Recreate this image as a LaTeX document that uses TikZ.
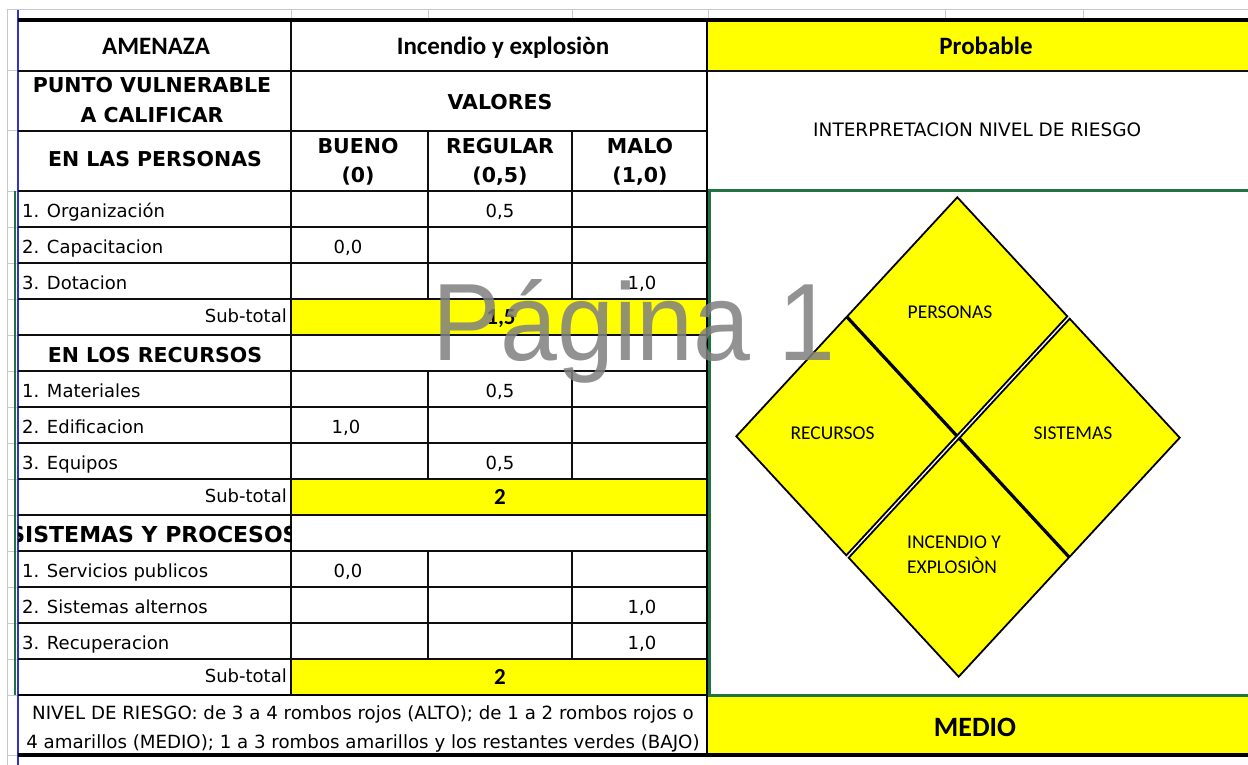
\documentclass[tikz,border=0pt]{standalone}
\usepackage{fontspec}
\setmainfont{DejaVu Sans}
\newfontfamily\calibri{Carlito}
\newfontfamily\arialfont{Liberation Sans}
\usetikzlibrary{shapes.geometric}
\definecolor{amarillo}{RGB}{255,255,0}
\definecolor{verdexl}{RGB}{33,115,70}
\definecolor{rejilla}{RGB}{200,200,200}
\definecolor{azulxl}{RGB}{50,50,210}
\definecolor{marcagris}{RGB}{128,128,128}
\definecolor{tinta}{RGB}{15,15,15}
\tikzset{linea/.style={line width=1.6pt, tinta},
  gruesa/.style={line width=3.5pt, black},
  item/.style={anchor=base west, inner sep=0pt, font=\fontsize{18}{20}\selectfont},
  valor/.style={anchor=base, inner sep=0pt, font=\fontsize{18}{20}\selectfont},
  encab/.style={anchor=base, inner sep=0pt, font=\bfseries\fontsize{20.5}{24}\selectfont},
  titulo/.style={anchor=base, inner sep=0pt, font=\calibri\bfseries\fontsize{25}{30}\selectfont},
  subtot/.style={anchor=base, inner sep=0pt, font=\calibri\bfseries\fontsize{23}{28}\selectfont},
  rombo/.style={draw, fill=amarillo, shape=diamond, line width=1.8pt, minimum width=220pt, minimum height=238pt, inner sep=0pt, outer sep=0pt},
  rotulo/.style={anchor=base, inner sep=0pt, font=\calibri\fontsize{19.5}{24}\selectfont}}

\begin{document}
\begin{tikzpicture}[x=1pt,y=-1pt]
\useasboundingbox (0,0) rectangle (1248,765);
\fill[white] (0,0) rectangle (1248,765);

\fill[amarillo] (708,20) rectangle (1248,71);
\fill[amarillo] (708,695) rectangle (1248,755);
\fill[amarillo] (291,299) rectangle (708,335);
\fill[amarillo] (291,479) rectangle (708,515);
\fill[amarillo] (291,659) rectangle (708,695);

\path[draw, rejilla, line width=1pt]
(7,10) -- (7,765)
(7,10) -- (1248,10)
(291,10) -- (291,20) (428,10) -- (428,20) (572,10) -- (572,20)
(708,10) -- (708,20) (945,10) -- (945,20) (1083,10) -- (1083,20)
(7,71) -- (18,71) (7,131) -- (18,131) (7,191) -- (18,191)
(7,227) -- (18,227) (7,263) -- (18,263) (7,299) -- (18,299)
(7,335) -- (18,335) (7,371) -- (18,371) (7,407) -- (18,407)
(7,443) -- (18,443) (7,479) -- (18,479) (7,515) -- (18,515)
(7,551) -- (18,551) (7,587) -- (18,587) (7,623) -- (18,623)
(7,659) -- (18,659) (7,695) -- (18,695) (7,755) -- (18,755);
\draw[azulxl, line width=1.2pt] (18,10) -- (18,765);
\draw[verdexl, line width=2pt] (14.5,191) -- (14.5,695);

\path[draw, linea]
(18,71) -- (1248,71)
(18,131) -- (708,131)
(18,191) -- (708,191)
(18,227) -- (708,227)
(18,263) -- (708,263)
(18,299) -- (708,299)
(18,335) -- (708,335)
(18,371) -- (708,371)
(18,407) -- (708,407)
(18,443) -- (708,443)
(18,479) -- (708,479)
(18,515) -- (708,515)
(18,551) -- (708,551)
(18,587) -- (708,587)
(18,623) -- (708,623)
(18,659) -- (708,659)
(291,20) -- (291,695)
(428,131) -- (428,299) (572,131) -- (572,299)
(428,371) -- (428,479) (572,371) -- (572,479)
(428,551) -- (428,659) (572,551) -- (572,659);
\path[draw, gruesa]
(18,20) -- (1248,20)
(18,755) -- (1248,755);
\draw[line width=2.5pt] (18,695) -- (708,695);
\draw[line width=2.5pt] (707,20) -- (707,755);
\draw[verdexl, line width=3pt] (1249,190.5) -- (709,190.5) -- (709,695) -- (1249,695);

\node[titulo] (amenaza) at (156,55) {AMENAZA};
\node[titulo] (incendio) at (503,55) {Incendio y explosiòn};
\node[titulo] (probable) at (986,55) {Probable};
\node[encab] (punto1) at (152,93) {PUNTO VULNERABLE};
\node[encab] (punto2) at (152,123) {A CALIFICAR};
\node[encab] (valores) at (500,110) {VALORES};
\node[encab] (personas) at (155,167) {EN LAS PERSONAS};
\node[encab] (bueno1) at (358,153.5) {BUENO};
\node[encab] (bueno2) at (358,182.5) {(0)};
\node[encab] (regular1) at (500,153.5) {REGULAR};
\node[encab] (regular2) at (500,182.5) {(0,5)};
\node[encab] (malo1) at (640,153.5) {MALO};
\node[encab] (malo2) at (640,182.5) {(1,0)};
\node[anchor=base west, inner sep=0pt, font=\fontsize{18.5}{22}\selectfont] (interp) at (813,137) {INTERPRETACION NIVEL DE RIESGO};

\node[item] (org) at (22,217) {1. Organización};
\node[item] (cap) at (22,253) {2. Capacitacion};
\node[item] (dot) at (22,289) {3. Dotacion};
\node[item, anchor=base east] (sub1) at (287,322) {Sub-total};
\node[encab] (recursos) at (155,362) {EN LOS RECURSOS};
\node[item] (mat) at (22,397) {1. Materiales};
\node[item] (edi) at (22,433) {2. Edificacion};
\node[item] (equ) at (22,469) {3. Equipos};
\node[item, anchor=base east] (sub2) at (287,502) {Sub-total};
\begin{scope}
\clip (18,515) rectangle (291,551);
\node[encab, font=\bfseries\fontsize{22}{24}\selectfont] (sistemas) at (154,542) {SISTEMAS Y PROCESOS};
\end{scope}
\node[item] (ser) at (22,577) {1. Servicios publicos};
\node[item] (alt) at (22,613) {2. Sistemas alternos};
\node[item] (rec) at (22,649) {3. Recuperacion};
\node[item, anchor=base east] (sub3) at (287,682) {Sub-total};

\node[valor] (vorg) at (500,217) {0,5};
\node[valor] (vcap) at (348,253) {0,0};
\node[valor] (vdot) at (642,289) {1,0};
\node[subtot] (tot1) at (501,324.5) {1,5};
\node[valor] (vmat) at (500,397) {0,5};
\node[valor] (vedi) at (346,433) {1,0};
\node[valor] (vequ) at (500,469) {0,5};
\node[subtot] (tot2) at (500,504.5) {2};
\node[valor] (vser) at (348,577) {0,0};
\node[valor] (valt) at (642,613) {1,0};
\node[valor] (vrec) at (642,649) {1,0};
\node[subtot] (tot3) at (500,684.5) {2};

\node[valor, font=\fontsize{18.2}{20}\selectfont] (nota1) at (363,719) {NIVEL DE RIESGO: de 3 a 4 rombos rojos (ALTO); de 1 a 2 rombos rojos o};
\node[valor, font=\fontsize{18.2}{20}\selectfont] (nota2) at (363,748) {4 amarillos (MEDIO); 1 a 3 rombos amarillos y los restantes verdes (BAJO)};
\node[titulo, font=\calibri\bfseries\fontsize{28}{32}\selectfont] (medio) at (975,736) {MEDIO};

\node[rombo] (rper) at (957.3,316.3) {};
\node[rombo] (rrec) at (846.3,436.3) {};
\node[rombo] (rsis) at (1069.7,437.7) {};
\node[rombo] (rinc) at (958.7,557.7) {};
\node[rotulo] (tper) at (950,318) {PERSONAS};
\node[rotulo] (trec) at (832.5,439) {RECURSOS};
\node[rotulo] (tsis) at (1073,439) {SISTEMAS};
\node[rotulo, anchor=base west] (tinc1) at (907,548) {INCENDIO Y};
\node[rotulo, anchor=base west] (tinc2) at (907,573) {EXPLOSIÒN};

\node[anchor=base west, inner sep=0pt, font=\arialfont\fontsize{110}{120}\selectfont, text=marcagris, opacity=0.85, xscale=0.93, transform shape] (pagina) at (432,360) {Página 1};
\end{tikzpicture}
\end{document}
